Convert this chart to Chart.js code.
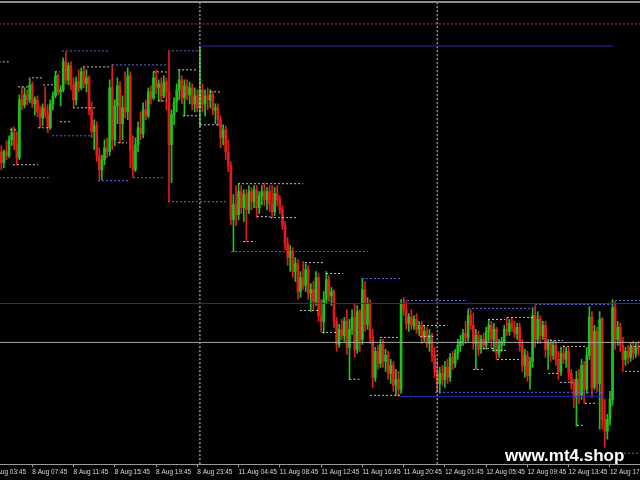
<!DOCTYPE html>
<html>
<head>
<meta charset="utf-8">
<script src="https://cdn.jsdelivr.net/npm/chart.js@4.4.1/dist/chart.umd.min.js"></script>
<style>
  html, body { margin: 0; padding: 0; background: #000; }
  #wrap { position: relative; width: 640px; height: 480px; overflow: hidden; }
  #mark { position: absolute; left: 505px; top: 447px; font: bold 17px/17px "Liberation Sans", Arial, sans-serif; color: #fff; }
</style>
</head>
<body>
<div id="wrap">
  <canvas id="chart" width="640" height="480"></canvas>
  <div id="mark">www.mt4.shop</div>
</div>
<script>
// M15 bars, prices in points
const opens = [
  348,337,348,344,360,367,355,342,400,395, 405,400,415,396,400,388,382,392,386,372,
  396,404,424,408,410,438,420,434,415,400, 418,412,428,416,422,390,368,374,344,330,
  340,352,348,412,360,394,414,376,392,388, 424,350,330,355,372,366,390,384,408,402,
  422,412,416,404,418,408,355,385,398,410, 420,402,414,405,412,396,404,392,410,396,
  404,400,405,390,392,380,362,370,348,334, 280,295,285,308,292,305,290,308,298,310,
  292,304,308,300,308,296,288,306,300,290, 274,256,242,248,228,236,208,222,214,230,
  206,210,198,222,184,178,200,220,204,208, 178,155,170,164,178,152,170,182,150,188,
  160,210,175,195,162,122,148,136,155,138, 144,126,134,114,120,110,196,190,176,182,
  174,180,170,174,162,168,156,164,144,128, 116,126,120,132,122,142,136,146,154,158,
  166,162,184,174,156,164,150,160,154,168, 174,160,170,146,154,158,170,168,176,172,
  166,172,154,134,144,124,138,184,160,180, 164,174,150,156,144,154,140,128,146,140,
  148,126,116,102,120,104,134,110,144,182, 112,168,116,180,80,68,80,100,192,160,
  172,154,140,148,142,152,146,152
];
const highs = [
  354,350,359,364,372,373,368,405,413,412, 410,422,418,403,404,394,396,413,395,400,
  408,428,426,414,442,448,437,438,422,423, 430,432,433,430,424,398,380,378,352,345,
  360,362,420,435,400,422,418,404,428,432, 428,364,362,378,388,397,400,412,414,428,
  430,420,422,424,422,448,390,402,416,430, 424,420,420,418,416,412,410,453,416,410,
  412,410,408,396,396,384,375,374,360,338, 305,314,316,314,310,310,314,312,314,314,
  308,314,316,312,314,314,312,314,304,294, 278,262,254,252,242,240,228,238,236,234,
  216,218,228,226,200,208,228,224,212,210, 182,175,180,182,190,180,190,196,194,190,
  221,218,202,200,170,152,154,160,160,150, 148,140,138,130,128,200,202,198,186,190,
  184,186,178,178,174,172,170,166,152,138, 132,134,138,140,146,148,150,160,164,170,
  178,190,190,186,170,168,164,166,172,180, 178,176,172,160,162,174,182,180,182,178,
  176,176,160,150,148,142,192,194,188,184, 178,178,160,160,158,158,148,152,154,152,
  152,130,120,128,130,140,138,152,193,188, 174,172,188,182,100,85,108,200,198,178,
  176,162,152,154,156,158,156,158
];
const lows = [
  330,332,340,342,354,350,335,340,390,392, 395,397,392,385,383,372,374,382,367,370,
  390,402,405,394,408,416,415,410,393,395, 408,410,412,408,385,362,350,338,320,320,
  335,342,344,350,354,376,357,360,382,380, 332,322,328,348,360,362,380,382,396,400,
  406,399,398,402,390,298,317,375,388,400, 396,384,400,396,390,388,388,373,388,384,
  390,392,385,376,374,352,355,340,328,275, 248,274,280,286,278,258,286,290,292,282,
  286,295,294,290,288,282,284,294,286,270, 250,234,228,222,218,200,202,210,208,200,
  188,190,194,178,168,166,196,198,194,172, 148,152,160,158,145,120,165,142,146,148,
  155,168,170,156,112,118,130,132,132,128, 120,116,108,104,103,106,184,170,168,170,
  170,166,164,156,158,152,148,138,122,108, 106,114,112,116,118,130,132,140,148,154,
  156,158,170,150,130,144,146,150,150,158, 152,148,140,142,148,154,164,164,168,162,
  160,148,128,122,118,110,132,152,156,156, 160,142,130,138,140,134,120,124,136,132,
  120,110,92,73,96,100,96,106,140,102, 110,108,70,70,52,60,74,94,150,154,
  148,128,134,136,138,140,142,144
];
const closes = [
  337,348,344,360,367,355,342,400,395,405, 400,415,396,400,388,382,392,386,372,396,
  404,424,408,410,438,420,434,415,400,418, 412,428,416,422,390,368,374,344,330,340,
  352,348,412,360,394,414,376,392,388,424, 350,330,355,372,366,390,384,408,402,422,
  412,416,404,418,408,355,385,398,410,420, 402,414,405,412,396,404,392,410,396,404,
  400,405,390,392,380,362,370,348,334,280, 295,285,308,292,305,290,308,298,310,292,
  304,308,300,308,296,288,306,300,290,274, 256,242,248,228,236,208,222,214,230,206,
  210,198,222,184,178,200,220,204,208,178, 155,170,164,178,152,170,182,150,188,160,
  210,175,195,162,122,148,136,155,138,144, 126,134,114,120,110,196,190,176,182,174,
  180,170,174,162,168,156,164,144,128,116, 126,120,132,122,142,136,146,154,158,166,
  162,184,174,156,164,150,160,154,168,174, 160,170,146,154,158,170,168,176,172,166,
  172,154,134,144,124,138,184,160,180,164, 174,150,156,144,154,140,128,146,140,148,
  126,116,102,120,104,134,110,144,182,112, 168,116,180,80,68,80,100,192,160,172,
  154,140,148,142,152,146,152,150
];

// time axis: bar index of each label
const tickBars = [-4, 12, 28, 44, 60, 76, 92, 108, 124, 140, 156, 172, 188, 204, 220, 236];
const tickLabels = ['8 Aug 03:45', '8 Aug 07:45', '8 Aug 11:45', '8 Aug 15:45', '8 Aug 19:45',
  '8 Aug 23:45', '11 Aug 04:45', '11 Aug 08:45', '11 Aug 12:45', '11 Aug 16:45',
  '11 Aug 20:45', '12 Aug 01:45', '12 Aug 05:45', '12 Aug 09:45', '12 Aug 13:45', '12 Aug 17:45'];

// day separators (bar index)
const separators = [77, 169];

// fractal levels: price, from bar, to bar, kind (g = grey dots, b = blue dots)
const levelPrices = [438,413,422,428,415,372,378,392,433,435,428,399,430,384,408,375,357,335,364,370,
  449,449,322,319,322,298,316,283,282,258,248,237,226,221,189,167,162,199,191,195,
  199,180,182,174,163,159,153,151,149,140,130,126,117,128,107,104,96,74,46,153,120];
const levelFrom = [-1,6.5,11.9,20.8,16.2,14.2,22.7,27.8,31.7,42.9,58.8,60.7,68.5,70.4,80.9,77,45.2,4.5,19.6,3.4,
  23.5,64.6,-1,37.5,51.1,64.6,91.8,99.1,104.2,93.7,89.1,117.7,125.9,139.8,115.8,124.3,146.8,155.7,181,207,
  238,188.7,196.1,163.5,162.3,212.7,217.8,186.8,190.2,192.2,182.9,212,216.6,241.8,168.2,143,226.3,223.2,239.9,243.8,135];
const levelTo = [3.4,11.1,16.2,22.7,20,18.1,27.4,37.1,42.1,64.2,64.2,64.2,76.3,76.3,84.8,84.8,48.7,14.2,34.4,6.1,
  42.1,76.3,18.9,49.9,63.5,87.9,117,104.2,115,98.4,142.2,125.5,132.5,155.4,122.8,130.2,154.6,180.6,206.2,237.2,
  249,195.3,206.2,172,167.4,217.8,227.1,191.4,196.1,201.1,187.5,216.6,221.7,249,233.3,154.6,231,225.5,249,249,139];
const levelKinds = ['g','g','g','g','g','g','g','g','g','b','g','g','g','g','g','g','g','g','b','g',
  'b','b','b','b','b','b','g','g','g','g','b','g','g','b','g','g','g','b','b','b',
  'b','g','g','g','g','g','g','g','g','g','g','g','g','g','b','g','g','g','b','g','g'];

// horizontal lines: price, from bar, to bar, style
const hlinePrices = [498, 476, 196, 157, 454, 103];
const hlineFrom = [-1, -1, -1, -1, 77, 154.6];
const hlineTo = [249, 249, 249, 249, 237.2, 233.3];
const hlineKinds = ['frame', 'red', 'navy', 'grey', 'navy', 'navy'];

const UP = '#1ec41e', DOWN = '#e41c1c';
const levelStyle = {
  g: { color: '#c4c4c4', dash: [2, 2], width: 1 },
  b: { color: '#5c6ce4', dash: [2, 2], width: 1 }
};
const hlineStyle = {
  frame: { color: '#8c8c8c', dash: [], width: 2 },
  red: { color: '#dc3434', dash: [2, 2], width: 1 },
  navy: { color: '#2828bc', dash: [], width: 1 },
  grey: { color: '#a8a8a8', dash: [], width: 1 }
};

const barColors = closes.map((c, i) => c >= opens[i] ? UP : DOWN);

const datasets = [];

datasets.push({
  type: 'bar', label: 'wick', order: 2, grouped: false,
  data: highs.map((h, i) => ({ x: i, y: [lows[i], h] })),
  backgroundColor: barColors, barThickness: 1, borderWidth: 0
});
datasets.push({
  type: 'bar', label: 'body', order: 2, grouped: false,
  data: opens.map((o, i) => ({ x: i, y: [Math.min(o, closes[i]), Math.max(o, closes[i])] })),
  backgroundColor: barColors, barThickness: 2, borderWidth: 0
});

levelPrices.forEach((p, i) => {
  const s = levelStyle[levelKinds[i]];
  datasets.push({
    type: 'line', order: 1,
    data: [{ x: levelFrom[i], y: p }, { x: levelTo[i], y: p }],
    borderColor: s.color, borderDash: s.dash, borderWidth: s.width, pointRadius: 0, fill: false
  });
});

hlinePrices.forEach((p, i) => {
  const s = hlineStyle[hlineKinds[i]];
  datasets.push({
    type: 'line', order: 0,
    data: [{ x: hlineFrom[i], y: p }, { x: hlineTo[i], y: p }],
    borderColor: s.color, borderDash: s.dash, borderWidth: s.width, pointRadius: 0, fill: false
  });
});

separators.forEach(b => {
  datasets.push({
    type: 'line', order: 0,
    data: [{ x: b, y: 35 }, { x: b, y: 497 }],
    borderColor: '#e0e0e0', borderDash: [2, 2], borderWidth: 1, pointRadius: 0, fill: false
  });
});

new Chart(document.getElementById('chart'), {
  type: 'bar',
  data: { datasets },
  options: {
    responsive: false,
    animation: false,
    devicePixelRatio: 1,
    layout: { padding: { left: 0, right: 0, top: 0, bottom: 3 } },
    plugins: { legend: { display: false }, tooltip: { enabled: false } },
    scales: {
      x: {
        type: 'linear',
        min: -0.52,
        max: 247.64,
        offset: false,
        grid: { display: true, drawOnChartArea: false, drawTicks: true, tickLength: 3, color: '#9a9a9a', offset: false },
        border: { display: true, color: '#9a9a9a' },
        ticks: {
          autoSkip: false, maxRotation: 0, minRotation: 0, align: 'start', padding: 1,
          color: '#dcdcdc', font: { family: 'Liberation Sans', size: 6.5 },
          callback: (v, i) => tickLabels[i]
        },
        afterBuildTicks: scale => { scale.ticks = tickBars.map(v => ({ value: v })); },
        afterFit: scale => { scale.paddingLeft = 0; scale.paddingRight = 0; }
      },
      y: { type: 'linear', display: false, min: 35, max: 500 }
    }
  }
});
</script>
</body>
</html>
